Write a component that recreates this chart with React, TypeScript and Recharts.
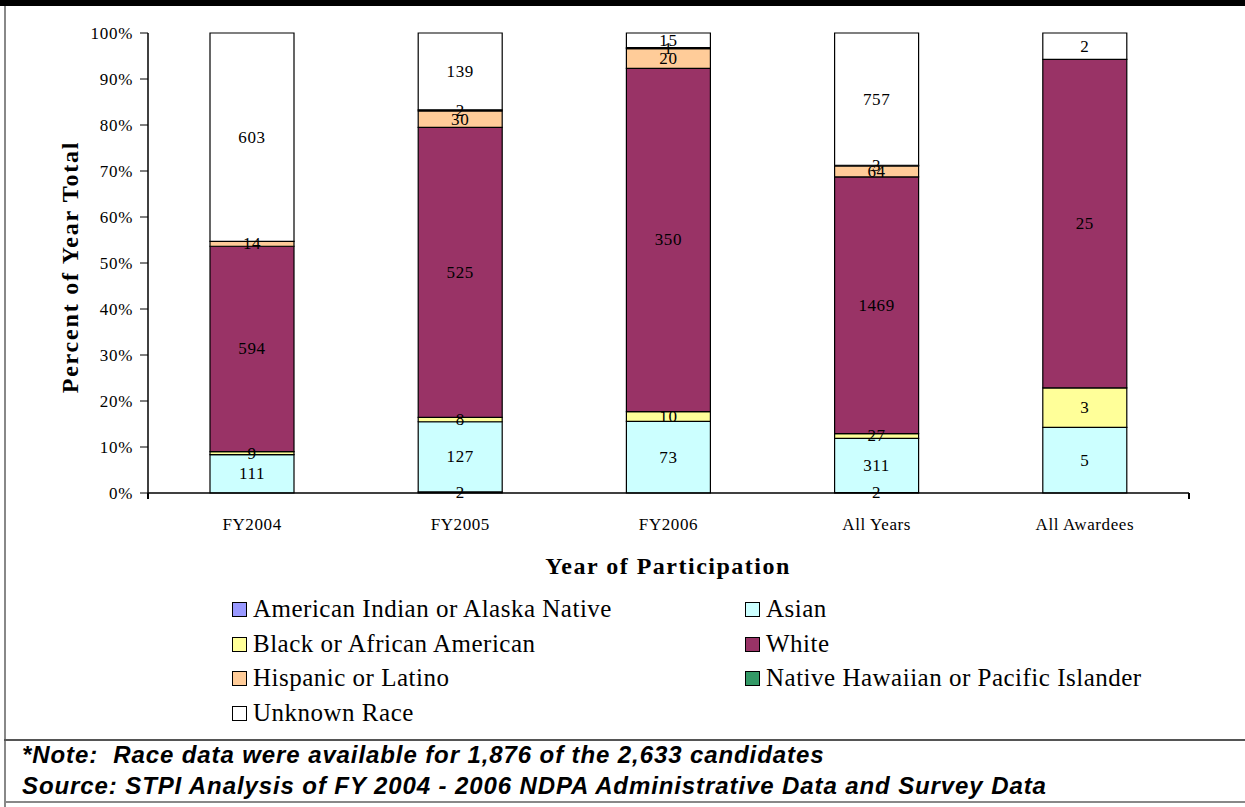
import React from "react";
import { BarChart, Bar, XAxis, YAxis, LabelList } from "recharts";

const categories = ["FY2004", "FY2005", "FY2006", "All Years", "All Awardees"];
const americanIndian = [0, 2, 0, 2, 0];
const asian = [111, 127, 73, 311, 5];
const black = [9, 8, 10, 27, 3];
const white = [594, 525, 350, 1469, 25];
const hispanic = [14, 30, 20, 64, 0];
const nativeHawaiian = [0, 2, 1, 3, 0];
const unknownRace = [603, 139, 15, 757, 2];
const yTicks = [0, 0.1, 0.2, 0.3, 0.4, 0.5, 0.6, 0.7, 0.8, 0.9, 1];

const seriesDefs = [
  { key: "ai", name: "American Indian or Alaska Native", values: americanIndian, color: "#9999FF" },
  { key: "asian", name: "Asian", values: asian, color: "#CCFFFF" },
  { key: "black", name: "Black or African American", values: black, color: "#FFFF99" },
  { key: "white", name: "White", values: white, color: "#993366" },
  { key: "hisp", name: "Hispanic or Latino", values: hispanic, color: "#FFCC99" },
  { key: "nh", name: "Native Hawaiian or Pacific Islander", values: nativeHawaiian, color: "#339966" },
  { key: "unk", name: "Unknown Race", values: unknownRace, color: "#FFFFFF" },
];

const data = categories.map((c, i) => {
  const row: any = { cat: c };
  seriesDefs.forEach((s) => (row[s.key] = s.values[i]));
  return row;
});

const legendOrder = [
  ["ai", "asian"],
  ["black", "white"],
  ["hisp", "nh"],
  ["unk"],
];

const serif = "'Liberation Serif', 'Times New Roman', serif";

const renderLabel = (props: any) => {
  const { x, y, width, height, value } = props;
  if (!value) return null;
  return (
    <text
      x={Number(x) + Number(width) / 2}
      y={Number(y) + Number(height) / 2}
      textAnchor="middle"
      dominantBaseline="central"
      fontFamily={serif}
      fontSize={17}
      letterSpacing={0.6}
      fill="#000"
    >
      {value}
    </text>
  );
};

export default function App() {
  const legendRows = [609, 644, 678, 713];
  const legendCols = [232, 745];
  return (
    <div
      style={{
        position: "absolute",
        left: 0,
        top: 0,
        width: 1245,
        height: 807,
        background: "#fff",
        overflow: "hidden",
      }}
    >
      <div style={{ position: "absolute", left: 0, top: 0, width: 1245, height: 6, background: "#000" }} />
      <div style={{ position: "absolute", left: 4, top: 6, width: 2, height: 801, background: "#888" }} />
      <div style={{ position: "absolute", left: 4, top: 739, width: 1241, height: 2, background: "#555" }} />
      <div style={{ position: "absolute", left: 4, top: 801, width: 1241, height: 2, background: "#888" }} />
      <BarChart
        width={1245}
        height={807}
        data={data}
        stackOffset="expand"
        margin={{ top: 33, right: 56, left: 68, bottom: 284 }}
        barSize={84}
      >
        <XAxis
          dataKey="cat"
          height={30}
          tickLine={false}
          axisLine={{ stroke: "#000", strokeWidth: 1.5 }}
          tick={{ fontFamily: serif, fontSize: 17, fill: "#000", letterSpacing: 0.6 }}
          tickMargin={19}
        />
        <YAxis
          width={80}
          domain={[0, 1]}
          ticks={yTicks}
          tickFormatter={(v: number) => `${Math.round(v * 100)}%`}
          tickSize={8}
          tickMargin={7}
          tickLine={{ stroke: "#000" }}
          axisLine={{ stroke: "#000", strokeWidth: 1.5 }}
          tick={{ fontFamily: serif, fontSize: 17, fill: "#000", letterSpacing: 0.7 }}
        />
        {seriesDefs.map((s) => (
          <Bar
            key={s.key}
            dataKey={s.key}
            name={s.name}
            stackId="a"
            fill={s.color}
            stroke="#000"
            strokeWidth={1.2}
            isAnimationActive={false}
          >
            <LabelList dataKey={s.key} content={renderLabel} />
          </Bar>
        ))}
      </BarChart>
      <div style={{ position: "absolute", left: 147, top: 493, width: 1.5, height: 6, background: "#000" }} />
      <div style={{ position: "absolute", left: 1188, top: 493, width: 1.5, height: 6, background: "#000" }} />
      <div
        style={{
          position: "absolute",
          left: 70,
          top: 267,
          transform: "translate(-50%, -50%) rotate(-90deg)",
          fontFamily: serif,
          fontWeight: "bold",
          fontSize: 24,
          letterSpacing: 1.8,
          whiteSpace: "nowrap",
        }}
      >
        Percent of Year Total
      </div>
      <div
        style={{
          position: "absolute",
          left: 668,
          top: 566,
          transform: "translate(-50%, -50%)",
          fontFamily: serif,
          fontWeight: "bold",
          fontSize: 24,
          letterSpacing: 1.5,
          whiteSpace: "nowrap",
        }}
      >
        Year of Participation
      </div>
      {legendOrder.map((row, ri) =>
        row.map((k, ci) => {
          const s = seriesDefs.find((d) => d.key === k)!;
          return (
            <div
              key={k}
              style={{
                position: "absolute",
                left: legendCols[ci],
                top: legendRows[ri] - 14,
                display: "flex",
                alignItems: "center",
                height: 28,
                fontFamily: serif,
                fontSize: 25,
                letterSpacing: 0.5,
                whiteSpace: "nowrap",
              }}
            >
              <span
                style={{
                  display: "inline-block",
                  width: 13,
                  height: 13,
                  background: s.color,
                  border: "1.5px solid #000",
                  marginRight: 6,
                }}
              />
              {s.name}
            </div>
          );
        })
      )}
      <div
        style={{
          position: "absolute",
          left: 22,
          top: 739,
          fontFamily: "'Liberation Sans', Arial, sans-serif",
          fontStyle: "italic",
          fontWeight: "bold",
          fontSize: 24,
          letterSpacing: 0.9,
          lineHeight: "31px",
          color: "#000",
          whiteSpace: "nowrap",
        }}
      >
        <div>*Note:&nbsp; Race data were available for 1,876 of the 2,633 candidates</div>
        <div>Source: STPI Analysis of FY 2004 - 2006 NDPA Administrative Data and Survey Data</div>
      </div>
    </div>
  );
}
